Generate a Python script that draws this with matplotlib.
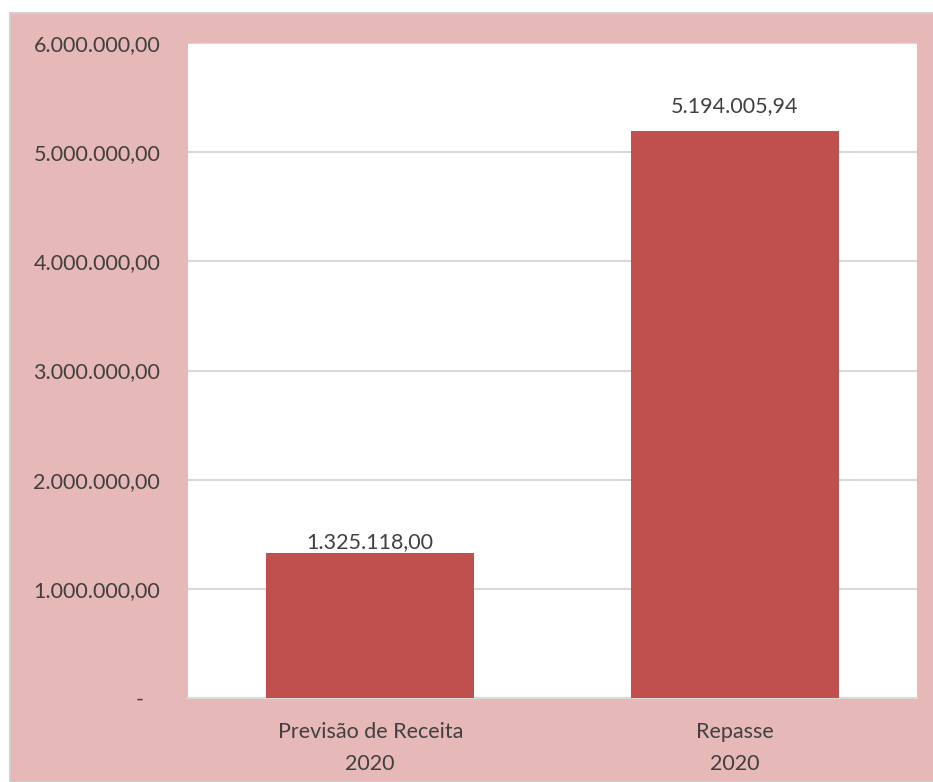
import matplotlib.pyplot as plt
from matplotlib.patches import Rectangle

# dados
categories = ["Previsão de Receita\n2020", "Repasse\n2020"]
values = [1325118.00, 5194005.94]
yticks = [0, 1000000, 2000000, 3000000, 4000000, 5000000, 6000000]
label_offsets = [1, 11]  # distância do rótulo ao topo da barra (pt)


def fmt_br(v):
    s = f"{v:,.2f}"
    return s.replace(",", "X").replace(".", ",").replace("X", ".")


plt.rcParams["font.family"] = ["Lato", "DejaVu Sans"]
text_color = "#404040"
bar_color = "#C0504D"
bg_color = "#E6B8B7"

fig = plt.figure(figsize=(9.33, 7.82), dpi=100)
fig.patch.set_facecolor("white")
fig.patches.append(Rectangle((10 / 933, 0), 1, 1 - 13 / 782, transform=fig.transFigure,
                             facecolor=bg_color, edgecolor="#D0D0D0", linewidth=1.5, zorder=-10))

ax = fig.add_axes([188 / 933, 1 - 698 / 782, 729 / 933, 655 / 782])
ax.set_facecolor("white")

x = range(len(categories))
ax.bar(x, values, width=0.57, color=bar_color, zorder=3)
for xi, v, off in zip(x, values, label_offsets):
    ax.annotate(fmt_br(v), (xi, v), xytext=(0, off), textcoords="offset points",
                ha="center", va="bottom", fontsize=15.5, color=text_color)

ax.set_xlim(-0.5, 1.5)
ax.set_ylim(0, 6000000)
ax.set_yticks(yticks)
ax.set_yticklabels(["-   "] + [fmt_br(t) for t in yticks[1:]])
ax.set_xticks(list(x))
ax.set_xticklabels(categories, linespacing=1.75)
ax.tick_params(axis="both", length=0, labelsize=15.5, labelcolor=text_color)
ax.tick_params(axis="y", pad=20)
ax.tick_params(axis="x", pad=17)

ax.grid(axis="y", color="#D9D9D9", linewidth=1.5, zorder=0)
for side in ["top", "right", "left"]:
    ax.spines[side].set_visible(False)
ax.spines["bottom"].set_color("#D9D9D9")
ax.spines["bottom"].set_linewidth(1.5)

fig.savefig("out.png", dpi=100, facecolor=fig.get_facecolor())
